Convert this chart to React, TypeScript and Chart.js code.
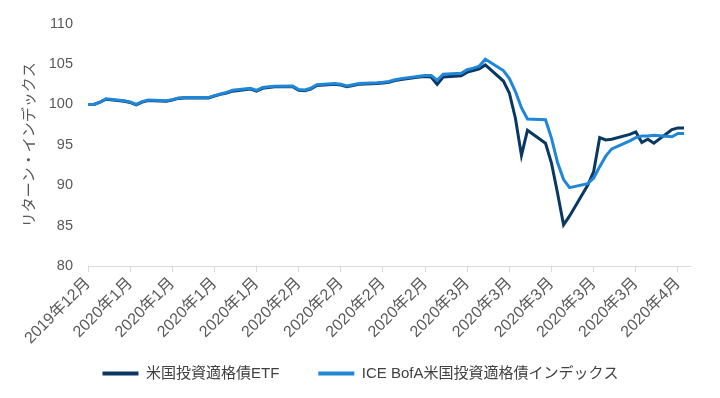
import React, { useEffect, useRef } from "react";
import { Chart, registerables } from "chart.js";

Chart.register(...registerables);

const dates: string[] = [
  "2019-12-31",
  "2020-01-01", "2020-01-02", "2020-01-03", "2020-01-06", "2020-01-07", "2020-01-08", "2020-01-09", "2020-01-10",
  "2020-01-13", "2020-01-14", "2020-01-15", "2020-01-16", "2020-01-17", "2020-01-20", "2020-01-21", "2020-01-22",
  "2020-01-23", "2020-01-24", "2020-01-27", "2020-01-28", "2020-01-29", "2020-01-30", "2020-01-31",
  "2020-02-03", "2020-02-04", "2020-02-05", "2020-02-06", "2020-02-07", "2020-02-10", "2020-02-11", "2020-02-12",
  "2020-02-13", "2020-02-14", "2020-02-17", "2020-02-18", "2020-02-19", "2020-02-20", "2020-02-21", "2020-02-24",
  "2020-02-25", "2020-02-26", "2020-02-27", "2020-02-28",
  "2020-03-02", "2020-03-03", "2020-03-04", "2020-03-05", "2020-03-06", "2020-03-09", "2020-03-10", "2020-03-11",
  "2020-03-12", "2020-03-13", "2020-03-16", "2020-03-17", "2020-03-18", "2020-03-19", "2020-03-20", "2020-03-23",
  "2020-03-24", "2020-03-25", "2020-03-26", "2020-03-27", "2020-03-30", "2020-03-31",
  "2020-04-01", "2020-04-02", "2020-04-03", "2020-04-06", "2020-04-07", "2020-04-08",
];

const etfValues: number[] = [
  100.0,
  100.0, 100.3, 100.65, 100.4, 100.25, 99.95, 100.3, 100.5,
  100.4, 100.55, 100.75, 100.8, 100.8, 100.8, 101.05, 101.25,
  101.4, 101.65, 101.9, 101.65, 102.0, 102.1, 102.2,
  102.2, 101.75, 101.7, 101.9, 102.35, 102.5, 102.4, 102.2,
  102.35, 102.5, 102.6, 102.65, 102.75, 102.95, 103.1, 103.4,
  103.45, 103.4, 102.5, 103.4,
  103.55, 104.0, 104.2, 104.4, 104.9, 102.9, 101.4, 98.3,
  93.7, 96.8, 95.2, 92.7, 89.0, 85.1, 86.2, 90.0,
  91.7, 95.9, 95.6, 95.7, 96.3, 96.6,
  95.3, 95.7, 95.2, 96.9, 97.1, 97.1,
];

const indexValues: number[] = [
  100.0,
  100.0, 100.3, 100.7, 100.45, 100.3, 100.0, 100.35, 100.55,
  100.45, 100.6, 100.8, 100.85, 100.85, 100.85, 101.1, 101.3,
  101.5, 101.75, 102.0, 101.75, 102.1, 102.2, 102.25,
  102.3, 101.85, 101.8, 102.0, 102.45, 102.6, 102.5, 102.3,
  102.45, 102.6, 102.7, 102.75, 102.85, 103.05, 103.2, 103.5,
  103.6, 103.6, 103.0, 103.75,
  103.85, 104.3, 104.5, 104.75, 105.6, 104.2, 103.2, 101.6,
  99.6, 98.2, 98.1, 95.8, 92.8, 90.7, 89.7, 90.2,
  90.9, 92.3, 93.6, 94.5, 95.5, 95.9,
  96.1, 96.1, 96.2, 96.0, 96.4, 96.4,
];

const tickDates: string[] = [
  "2019-12-31", "2020-01-07", "2020-01-14", "2020-01-21", "2020-01-28", "2020-02-04", "2020-02-11", "2020-02-18",
  "2020-02-25", "2020-03-03", "2020-03-10", "2020-03-17", "2020-03-24", "2020-03-31", "2020-04-07",
];

const tickLabels: string[] = [
  "2019年12月", "2020年1月", "2020年1月", "2020年1月", "2020年1月", "2020年2月", "2020年2月", "2020年2月",
  "2020年2月", "2020年3月", "2020年3月", "2020年3月", "2020年3月", "2020年3月", "2020年4月",
];

const seriesNames: string[] = ["米国投資適格債ETF", "ICE BofA米国投資適格債インデックス"];
const yTitle = "リターン・インデックス";

const DAY = 86400000;
const origin = Date.parse(dates[0] + "T00:00:00Z");
const toDay = (d: string) => Math.round((Date.parse(d + "T00:00:00Z") - origin) / DAY);

const FONT = "'Liberation Sans', 'Noto Sans CJK JP', Arial, sans-serif";

export default function App() {
  const ref = useRef<HTMLCanvasElement | null>(null);

  useEffect(() => {
    if (!ref.current) return;
    Chart.defaults.font.family = FONT;
    const xs = dates.map(toDay);
    const tickDays = tickDates.map(toDay);
    const labelMap: Record<number, string> = {};
    tickDays.forEach((d, i) => (labelMap[d] = tickLabels[i]));
    const lastDay = toDay("2020-04-09");

    const defaultGen = Chart.defaults.plugins.legend.labels.generateLabels;

    const chart = new Chart(ref.current, {
      type: "line",
      data: {
        datasets: [
          {
            label: seriesNames[0],
            data: xs.map((x, i) => ({ x, y: etfValues[i] })),
            borderColor: "#0b3863",
            backgroundColor: "#0b3863",
            borderWidth: 3,
            pointRadius: 0,
            tension: 0,
            order: 1,
          },
          {
            label: seriesNames[1],
            data: xs.map((x, i) => ({ x, y: indexValues[i] })),
            borderColor: "#1f86d8",
            backgroundColor: "#1f86d8",
            borderWidth: 3,
            pointRadius: 0,
            tension: 0,
            order: 0,
          },
        ],
      },
      options: {
        animation: false,
        responsive: false,
        devicePixelRatio: 1,
        layout: { padding: { left: 31, right: 30, top: 20, bottom: 7 } },
        plugins: {
          tooltip: { enabled: false },
          legend: {
            position: "bottom",
            labels: {
              boxWidth: 36,
              boxHeight: 4,
              padding: 39,
              color: "#404040",
              font: { size: 15, family: FONT },
              sort: (a: any, b: any) => a.datasetIndex - b.datasetIndex,
              generateLabels: (c: any) =>
                defaultGen(c).map((it: any) => ({ ...it, fillStyle: it.strokeStyle, lineWidth: 0 })),
            },
          },
        },
        scales: {
          x: {
            type: "linear",
            min: 0,
            max: lastDay,
            afterBuildTicks: (scale: any) => {
              scale.ticks = tickDays.map((value) => ({ value }));
            },
            afterFit: (scale: any) => {
              scale.height = 61;
              scale._computeLabelArea = () => undefined;
            },
            ticks: {
              autoSkip: false,
              maxRotation: 45,
              minRotation: 45,
              padding: 2,
              color: "#595959",
              font: { size: 16, family: FONT },
              callback: (v: any) => labelMap[v as number] ?? "",
            },
            grid: {
              drawOnChartArea: false,
              drawTicks: true,
              tickLength: 6,
              color: "#d9d9d9",
            },
            border: { display: true, color: "#d9d9d9", width: 1 },
          },
          y: {
            min: 80,
            max: 110,
            afterFit: (scale: any) => {
              scale.width = 57;
            },
            ticks: {
              stepSize: 5,
              padding: 15,
              color: "#595959",
              font: { size: 14.5, family: FONT },
            },
            grid: { display: false, drawTicks: false },
            border: { display: false },
            title: {
              display: true,
              text: yTitle,
              color: "#595959",
              font: { size: 15, family: FONT },
              padding: { top: -10, bottom: 0 },
            },
          },
        },
      },
    });
    return () => chart.destroy();
  }, []);

  return (
    <div style={{ position: "absolute", left: 0, top: 0, width: 720, height: 398, background: "#fff" }}>
      <canvas ref={ref} width={720} height={398} style={{ width: 720, height: 398 }} />
    </div>
  );
}
